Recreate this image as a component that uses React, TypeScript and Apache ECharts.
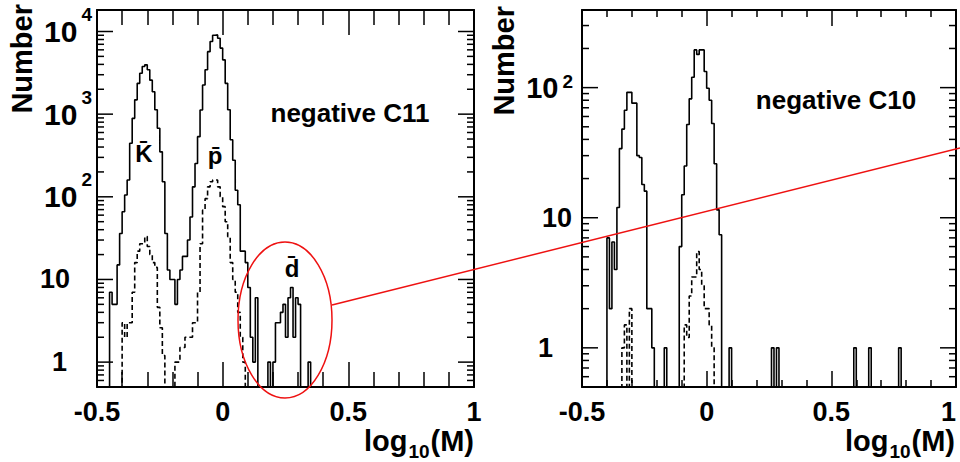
import React, { useEffect, useRef } from "react";
import * as echarts from "echarts";

// ---------- data (bin width 0.01 in log10(M)) ----------
const BIN = 0.01;
const X_MIN = -0.5;
const X_MAX = 1.0;
const Y_MIN = 0.5;
const Y_MAX_C11 = 18200;
const Y_MAX_C10 = 395;

// negative C11, solid histogram, first bin at -0.45
const c11SolidStart = -0.45;
const c11Solid = [
  7, 5, 5, 15, 36, 66, 105, 160, 444, 890, // -0.45 .. -0.36
  1490, 2360, 3130, 3770, 3950, 3450, 2580, 1870, 1130, 675, // -0.35 .. -0.26
  350, 152, 36, 13, 10, 10, 5, 10, 13, 19, // -0.25 .. -0.16
  19, 30, 57, 132, 253, 534, 1124, 2250, 3450, 5700, // -0.15 .. -0.06
  7570, 9000, 9100, 8300, 6300, 4540, 2360, 1130, 490, 277, // -0.05 .. 0.04
  120, 80, 22, 22, 16, 8, 2, 1, 6, 0, // 0.05 .. 0.14
  0, 0, 0, 1, 0, 1, 3, 3, 4, 5, // 0.15 .. 0.24
  2, 6, 8, 2, 6, 5, 0, 0, 0, 1, // 0.25 .. 0.34
];

// negative C11, dashed histogram, first bin at -0.40
const c11DashedStart = -0.4;
const c11Dashed = [
  3, 2, 3, 3, 7, 16, 22, 27, 27, 33, // -0.40 .. -0.31
  25, 20, 16, 14, 4.6, 2.6, 1.2, 0, 0, 0, // -0.30 .. -0.21
  0, 1, 1, 1.5, 1.5, 2, 2, 2, 3, 3, // -0.20 .. -0.11
  7, 27, 69, 95, 132, 152, 160, 160, 132, 100, // -0.10 .. -0.01
  76, 50, 33, 16, 10, 7, 4, 2, 1, // 0.00 .. 0.08
];

// negative C10, solid histogram, first bin at -0.40
const c10SolidStart = -0.4;
const c10Solid = [
  7, 2, 6.5, 4, 12, 34, 48, 67, 92, 92, // -0.40 .. -0.31
  76, 76, 30, 29, 18, 16, 2, 2, 1, 0, // -0.30 .. -0.21
  0, 0, 0, 1, 0, 0, 0, 0, 0, 6, // -0.20 .. -0.11
  15, 25, 52, 82, 120, 195, 180, 195, 195, 133, // -0.10 .. -0.01
  99, 80, 53, 26, 11.5, 7.4, 0, 0, 0, 1, // 0.00 .. 0.09
  0, 0, 0, 0, 0, 0, 0, 0, 0, 0, // 0.10 .. 0.19
  0, 0, 0, 0, 0, 0, 1, 0, 1, 0, // 0.20 .. 0.29
  0, 0, 0, 0, 0, 0, 0, 0, 0, 0, // 0.30 .. 0.39
  0, 0, 0, 0, 0, 0, 0, 0, 0, 0, // 0.40 .. 0.49
  0, 0, 0, 0, 0, 0, 0, 0, 0, 1, // 0.50 .. 0.59
  0, 0, 0, 0, 0, 1, 0, 0, 0, 0, // 0.60 .. 0.69
  0, 0, 0, 0, 0, 0, 0, 1, // 0.70 .. 0.77
];

// negative C10, dashed histogram, first bin at -0.34
const c10DashedStart = -0.34;
const c10Dashed = [
  1, 1.5, 0, 2, 0, 0, 0, 0, 0, 0, // -0.34 .. -0.25
  0, 0, 0, 0, 0, 0, 0, 0, 0, 0, // -0.24 .. -0.15
  0, 0, 0, 0, 0, 1.5, 1.2, 2.5, 3.5, 3.5, // -0.14 .. -0.05
  5.5, 4, 3, 2, 2, 1.5, 1, // -0.04 .. 0.02
];

const xTickLabels = ["-0.5", "0", "0.5", "1"];
const panelTitles = ["negative C11", "negative C10"];
const particleLabels = ["K\u0304", "p\u0304", "d\u0304"];
const yTitle = "Number";

// ---------- helpers ----------
const FONT = '"Liberation Sans", Arial, Helvetica, sans-serif';
const FLOOR = 0.05; // empty bins drawn below the axis minimum

function histPoints(start: number, counts: number[]) {
  const pts: number[][] = [];
  const n0 = Math.round((start - X_MIN) / BIN);
  const nBins = Math.round((X_MAX - X_MIN) / BIN);
  for (let i = 0; i < nBins; i++) {
    const j = i - n0;
    const c = j >= 0 && j < counts.length ? counts[j] : 0;
    pts.push([+(X_MIN + i * BIN).toFixed(2), c > 0 ? c : FLOOR]);
  }
  pts.push([X_MAX, pts[pts.length - 1][1]]);
  return pts;
}

function yTickData(maxV: number) {
  const d: number[][] = [];
  for (let e = -1; e <= 4; e++) {
    for (let m = 1; m <= 9; m++) {
      const v = +(m * Math.pow(10, e)).toPrecision(6);
      if (v >= Y_MIN && v <= maxV) d.push([X_MIN, v, m === 1 ? 1 : 0]);
    }
  }
  return d;
}

function yFormatter(plainPad: number, onePad: number) {
  return (v: number) => {
    const l = Math.log10(v);
    const e = Math.round(l);
    if (Math.abs(l - e) > 1e-6) return "";
    if (e >= 2) return `{B|10}{s|${e}}`;
    if (e === 1) return `{b|10}{p${plainPad}| }`;
    return `{b|1}{p${onePad}| }`;
  };
}

function yRich(pads: number[], supRaise: number, bigSize: number) {
  const r: any = {
    b: { fontFamily: FONT, fontWeight: "bold", fontSize: 27, color: "#000" },
    B: { fontFamily: FONT, fontWeight: "bold", fontSize: bigSize, color: "#000" },
    s: {
      fontFamily: FONT,
      fontWeight: "bold",
      fontSize: 19,
      color: "#000",
      padding: [0, 0, supRaise, 4],
    },
  };
  pads.forEach((p) => {
    r["p" + p] = { width: p, fontSize: 10 };
  });
  return r;
}

function xAxes(grid: number, major: number, minor: number, alignMax: string) {
  const common = {
    gridIndex: grid,
    type: "value",
    min: X_MIN,
    max: X_MAX,
    interval: 0.5,
    splitLine: { show: false },
    axisLine: { show: true, onZero: false, lineStyle: { color: "#000", width: 2 } },
    axisTick: { show: true, inside: true, length: major, lineStyle: { color: "#000", width: 1.5 } },
    minorTick: { show: true, splitNumber: 5, length: minor, lineStyle: { color: "#000", width: 1.5 } },
  };
  return [
    {
      ...common,
      position: "bottom",
      axisLabel: {
        show: true,
        margin: 11,
        fontFamily: FONT,
        fontWeight: "bold",
        fontSize: 27,
        color: "#000",
        alignMaxLabel: alignMax,
        formatter: (v: number) => {
          const idx = Math.round((v - X_MIN) / 0.5);
          return xTickLabels[idx] ?? String(v);
        },
      },
    },
    { ...common, position: "top", axisLabel: { show: false } },
  ];
}

function yAxes(
  grid: number, maxV: number, margin: number, plainPad: number, onePad: number,
  supRaise: number, bigSize: number
) {
  const common = {
    gridIndex: grid,
    type: "log",
    logBase: 10,
    min: Y_MIN,
    max: maxV,
    splitLine: { show: false },
    axisLine: { show: true, onZero: false, lineStyle: { color: "#000", width: 2 } },
    axisTick: { show: false },
    minorTick: { show: false },
  };
  return [
    {
      ...common,
      position: "left",
      axisLabel: {
        show: true,
        margin,
        formatter: yFormatter(plainPad, onePad),
        rich: yRich([plainPad, onePad], supRaise, bigSize),
      },
    },
    { ...common, position: "right", axisLabel: { show: false } },
  ];
}

function tickSeries(xIdx: number, yIdx: number, maxV: number) {
  return {
    type: "custom",
    xAxisIndex: xIdx,
    yAxisIndex: yIdx,
    silent: true,
    data: yTickData(maxV),
    encode: { x: 0, y: 1 },
    renderItem: (_p: any, api: any) => {
      const v = api.value(1);
      const major = api.value(2) === 1;
      const a = api.coord([X_MIN, v]);
      const b = api.coord([X_MAX, v]);
      const len = major ? 16 : 7;
      const st = { stroke: "#000", lineWidth: 1.5 };
      return {
        type: "group",
        children: [
          { type: "line", shape: { x1: a[0], y1: a[1], x2: a[0] + len, y2: a[1] }, style: st },
          { type: "line", shape: { x1: b[0], y1: b[1], x2: b[0] - len, y2: b[1] }, style: st },
        ],
      };
    },
  };
}

function histSeries(name: string, xIdx: number, yIdx: number, start: number, counts: number[], dashed: boolean) {
  return {
    name,
    type: "line",
    xAxisIndex: xIdx,
    yAxisIndex: yIdx,
    step: "end",
    symbol: "none",
    clip: true,
    silent: true,
    data: histPoints(start, counts),
    lineStyle: { color: "#000", width: 1.6, type: dashed ? [5, 3] : "solid" },
    z: 3,
  };
}

const titleRich = {
  a: { fontFamily: FONT, fontWeight: "bold", fontSize: 29, color: "#000" },
  s: { fontFamily: FONT, fontWeight: "bold", fontSize: 19, color: "#000", padding: [20, 1, 0, 1] },
};

export default function App() {
  const ref = useRef<HTMLDivElement>(null);
  useEffect(() => {
    if (!ref.current) return;
    const chart = echarts.init(ref.current, undefined, { renderer: "svg" });
    const option: any = {
      animation: false,
      backgroundColor: "#fff",
      grid: [
        { left: 97, top: 10, width: 377, height: 377, outerBoundsMode: "none" },
        { left: 582, top: 10, width: 374, height: 377, outerBoundsMode: "none" },
      ],
      xAxis: [...xAxes(0, 25, 15, "center"), ...xAxes(1, 16, 7, "right")],
      yAxis: [
        ...yAxes(0, Y_MAX_C11, 5, 22, 25, 34, 30),
        ...yAxes(1, Y_MAX_C10, 9, 1, 20, 12, 29),
      ],
      series: [
        tickSeries(0, 0, Y_MAX_C11),
        tickSeries(2, 2, Y_MAX_C10),
        histSeries("C11 all", 0, 0, c11SolidStart, c11Solid, false),
        histSeries("C11 selected", 0, 0, c11DashedStart, c11Dashed, true),
        histSeries("C10 all", 2, 2, c10SolidStart, c10Solid, false),
        histSeries("C10 selected", 2, 2, c10DashedStart, c10Dashed, true),
      ],
      graphic: [
        {
          type: "text", x: 22, y: 4, rotation: Math.PI / 2,
          style: { text: yTitle, font: `bold 29px ${FONT}`, fill: "#000", align: "right", verticalAlign: "middle" },
        },
        {
          type: "text", x: 504, y: 6, rotation: Math.PI / 2,
          style: { text: yTitle, font: `bold 29px ${FONT}`, fill: "#000", align: "right", verticalAlign: "middle" },
        },
        {
          type: "text", x: 350, y: 113,
          style: { text: panelTitles[0], font: `bold 26px ${FONT}`, fill: "#000", align: "center", verticalAlign: "middle" },
        },
        {
          type: "text", x: 836, y: 100,
          style: { text: panelTitles[1], font: `bold 26px ${FONT}`, fill: "#000", align: "center", verticalAlign: "middle" },
        },
        {
          type: "text", x: 144, y: 153,
          style: { text: particleLabels[0], font: `bold 24px ${FONT}`, fill: "#000", align: "center", verticalAlign: "middle" },
        },
        {
          type: "text", x: 215, y: 155,
          style: { text: particleLabels[1], font: `bold 24px ${FONT}`, fill: "#000", align: "center", verticalAlign: "middle" },
        },
        {
          type: "text", x: 292, y: 268,
          style: { text: particleLabels[2], font: `bold 24px ${FONT}`, fill: "#000", align: "center", verticalAlign: "middle" },
        },
        {
          type: "text", x: 474, y: 441,
          style: { text: "{a|log}{s|10}{a|(M)}", rich: titleRich, align: "right", verticalAlign: "middle" },
        },
        {
          type: "text", x: 955, y: 441,
          style: { text: "{a|log}{s|10}{a|(M)}", rich: titleRich, align: "right", verticalAlign: "middle" },
        },
        {
          type: "ellipse",
          shape: { cx: 285, cy: 320, rx: 47, ry: 78 },
          style: { fill: "none", stroke: "#ee1111", lineWidth: 1.5 },
          z: 10,
        },
        {
          type: "line",
          shape: { x1: 332, y1: 305, x2: 960, y2: 148 },
          style: { stroke: "#ee1111", lineWidth: 1.5 },
          z: 10,
        },
      ],
    };
    chart.setOption(option);
    return () => chart.dispose();
  }, []);
  return (
    <div
      ref={ref}
      style={{ position: "absolute", left: 0, top: 0, width: 960, height: 462, background: "#fff" }}
    />
  );
}
